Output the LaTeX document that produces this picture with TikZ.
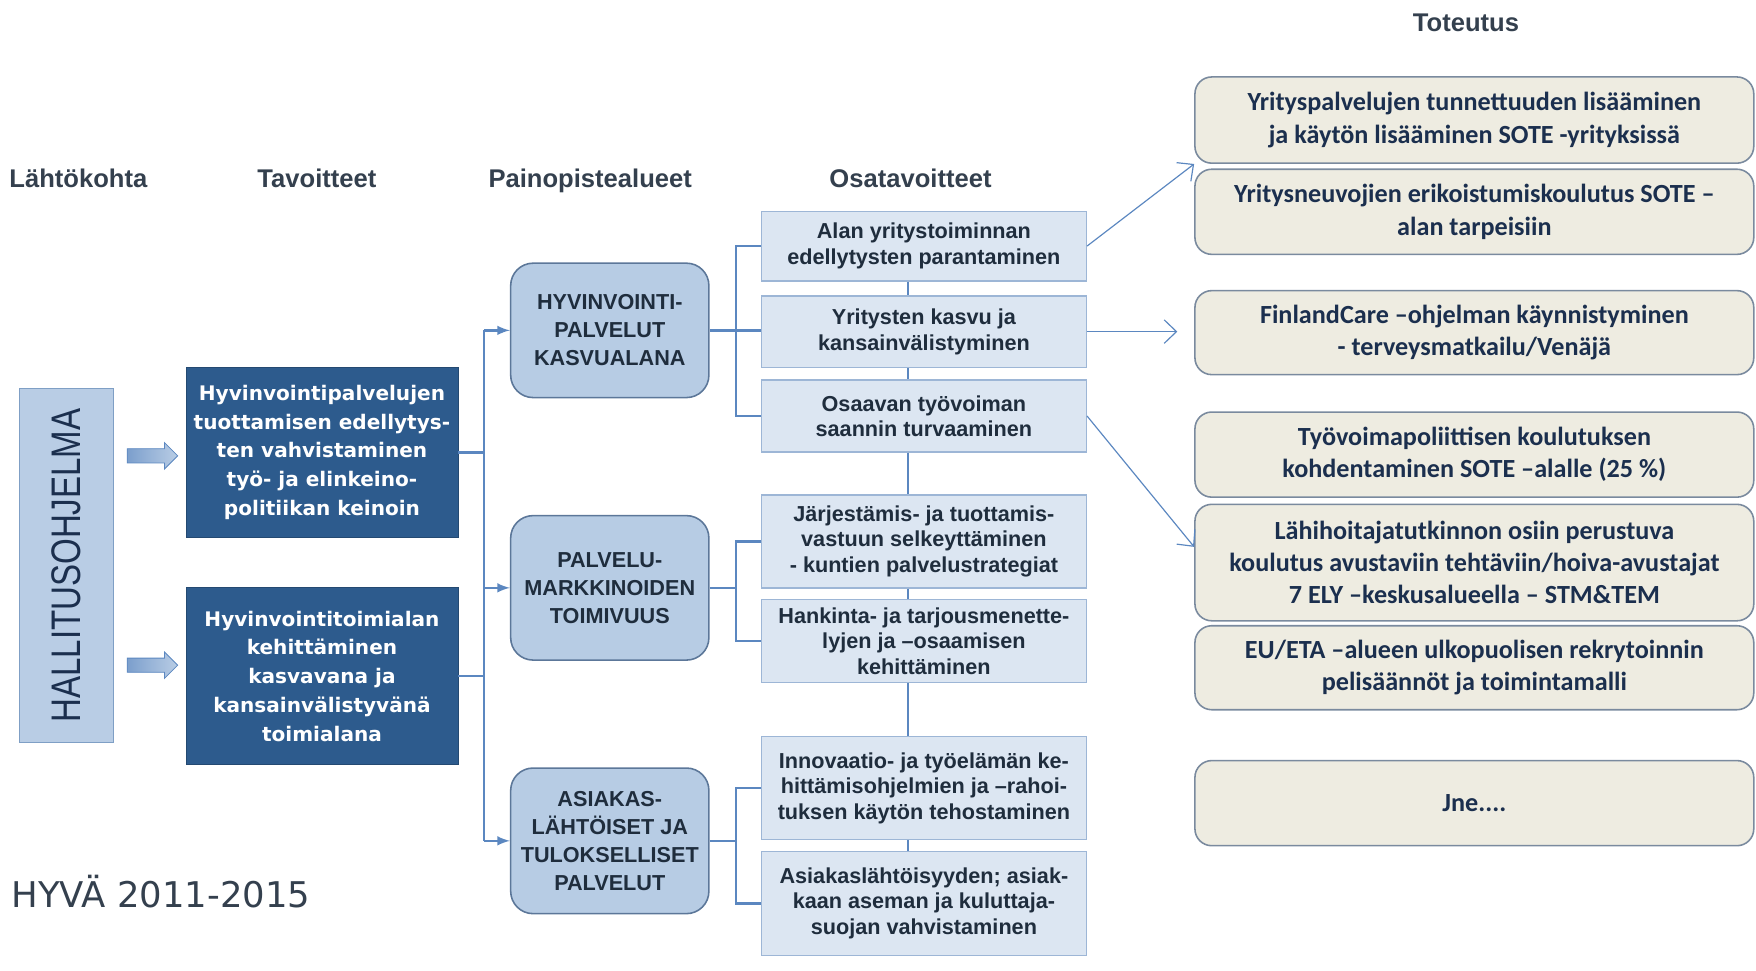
\documentclass[tikz,border=0pt]{standalone}
\usepackage{fontspec}
\setmainfont{Liberation Sans}
\newfontfamily\califont{Carlito}
\newfontfamily\verdfont{DejaVu Sans}
\newfontfamily\narrowfont[FakeStretch=0.8]{Liberation Sans}
\usepackage{tikz}
\usetikzlibrary{positioning, arrows, arrows.meta, shapes.arrows}

\definecolor{headgray}{HTML}{34404E}
\definecolor{inkblue}{HTML}{1F2D3D}
\definecolor{navy}{HTML}{1B2F4E}
\definecolor{goalblue}{HTML}{2D5B8D}
\definecolor{startfill}{HTML}{B9CDE5}
\definecolor{startline}{HTML}{7F9FC5}
\definecolor{focusfill}{HTML}{B7CCE4}
\definecolor{focusline}{HTML}{5C7799}
\definecolor{subfill}{HTML}{DCE6F2}
\definecolor{subline}{HTML}{9DB6D6}
\definecolor{actfill}{HTML}{EEECE1}
\definecolor{actline}{HTML}{7A8A9E}
\definecolor{linkblue}{HTML}{5B87C0}

\tikzset{
	head/.style={anchor=base, font=\bfseries\fontsize{13}{15}\selectfont, text=headgray},
	startbox/.style={rotate=90, fill=startfill, draw=startline, minimum width=6.32cm, minimum height=1.68cm,
		font=\narrowfont\fontsize{21}{24}\selectfont, text=navy},
	blockarrow/.style={single arrow, left color=linkblue!80, right color=startfill, draw=linkblue,
		minimum height=0.9cm, inner sep=0.12cm, single arrow head extend=0.11cm},
	goal/.style={fill=goalblue, draw=goalblue!80!black, text=white, align=center, minimum width=4.86cm,
		minimum height=3.04cm, font=\verdfont\bfseries\fontsize{10.2}{14.6}\selectfont},
	focus/.style={rounded corners=0.4cm, fill=focusfill, draw=focusline, thick, align=center, minimum width=3.54cm,
		minimum height=2.4cm, font=\bfseries\fontsize{11}{14.2}\selectfont, text=inkblue},
	sub/.style={fill=subfill, draw=subline, thick, align=center, minimum width=5.8cm, inner sep=2pt,
		font=\bfseries\fontsize{11}{13}\selectfont, text=inkblue},
	act/.style={rounded corners=0.3cm, fill=actfill, draw=actline, thick, align=center, minimum width=9.98cm,
		font=\califont\bfseries\fontsize{13.3}{16.4}\selectfont, text=navy},
	link/.style={draw=linkblue, line width=1.2pt},
	thinlink/.style={draw=linkblue, line width=0.6pt, -{Straight Barb[length=0.22cm, width=0.42cm]}}
}

\begin{document}
\begin{tikzpicture}[x=0.2mm, y=-0.2mm]
	\useasboundingbox (0,0) rectangle (1568,867);

	\node[head] (h1) at (70,167) {Lähtökohta};
	\node[head] (h2) at (283,167) {Tavoitteet};
	\node[head] (h3) at (527,167) {Painopistealueet};
	\node[head] (h4) at (813,167) {Osatavoitteet};
	\node[head] (h5) at (1309,28) {Toteutus};

	\node[startbox] (start) at (59,505) {HALLITUSOHJELMA};
	\node[blockarrow] (a1) at (133,407) {};
	\node[blockarrow] (a2) at (133,594) {};

	\node[goal] (t1) at (287.5,404) {Hyvinvointipalvelujen\\tuottamisen edellytys-\\ten vahvistaminen\\työ- ja elinkeino-\\politiikan keinoin};
	\node[goal, below=0.88cm of t1, minimum height=3.16cm] (t2) {Hyvinvointitoimialan\\kehittäminen\\kasvavana ja\\kansainvälistyvänä\\toimialana};

	\node[focus] (p1) at (544.5,295) {HYVINVOINTI-\\PALVELUT\\KASVUALANA};
	\node[focus, below=2.08cm of p1, minimum height=2.58cm] (p2) {PALVELU-\\MARKKINOIDEN\\TOIMIVUUS};
	\node[focus, below=1.9cm of p2, minimum height=2.6cm] (p3) {ASIAKAS-\\LÄHTÖISET JA\\TULOKSELLISET\\PALVELUT};

	\node[sub, anchor=north, minimum height=1.24cm] (o1) at (825,188) {Alan yritystoiminnan\\edellytysten parantaminen};
	\node[sub, below=0.24cm of o1, minimum height=1.28cm] (o2) {Yritysten kasvu ja\\kansainvälistyminen};
	\node[sub, below=0.2cm of o2, minimum height=1.28cm] (o3) {Osaavan työvoiman\\saannin turvaaminen};
	\node[sub, below=0.74cm of o3, minimum height=1.66cm] (o4) {Järjestämis- ja tuottamis-\\vastuun selkeyttäminen\\- kuntien palvelustrategiat};
	\node[sub, below=0.18cm of o4, minimum height=1.48cm] (o5) {Hankinta- ja tarjousmenette-\\lyjen ja –osaamisen\\kehittäminen};
	\node[sub, below=0.94cm of o5, minimum height=1.84cm] (o6) {Innovaatio- ja työelämän ke-\\hittämisohjelmien ja –rahoi-\\tuksen käytön tehostaminen};
	\node[sub, below=0.18cm of o6, minimum height=1.86cm] (o7) {Asiakaslähtöisyyden; asiak-\\kaan aseman ja kuluttaja-\\suojan vahvistaminen};

	\node[act, anchor=north, minimum height=1.54cm] (r1) at (1316.5,68) {Yrityspalvelujen tunnettuuden lisääminen\\ja käytön lisääminen SOTE -yrityksissä};
	\node[act, below=0.08cm of r1, minimum height=1.52cm] (r2) {Yritysneuvojien erikoistumiskoulutus SOTE –\\alan tarpeisiin};
	\node[act, below=0.62cm of r2, minimum height=1.5cm] (r3) {FinlandCare –ohjelman käynnistyminen\\- terveysmatkailu/Venäjä};
	\node[act, below=0.64cm of r3, minimum height=1.52cm] (r4) {Työvoimapoliittisen koulutuksen\\kohdentaminen SOTE –alalle (25 \%)};
	\node[act, below=0.1cm of r4, minimum height=2.08cm] (r5) {Lähihoitajatutkinnon osiin perustuva\\koulutus avustaviin tehtäviin/hoiva-avustajat\\7 ELY –keskusalueella – STM\&TEM};
	\node[act, below=0.06cm of r5, minimum height=1.5cm] (r6) {EU/ETA –alueen ulkopuolisen rekrytoinnin\\pelisäännöt ja toimintamalli};
	\node[act, below=0.88cm of r6, minimum height=1.52cm] (r7) {Jne....};

	\node[anchor=west, inner sep=0pt, font=\verdfont\fontsize{18}{20}\selectfont, text=headgray] (title) at (10,796) {HYVÄ 2011-2015};

	\coordinate (bus) at (432,0);
	\coordinate (fork) at (657,0);
	\coordinate (spine) at (811,0);
	\coordinate (r3tip) at ([xshift=-0.3cm]r3.west |- o2.east);

	\draw[link] (t1.east) -- (t1.east -| bus);
	\draw[link] (t2.east) -- (t2.east -| bus);
	\draw[link] (p1.west -| bus) -- (p3.west -| bus);
	\foreach \p in {p1,p2,p3}
		\draw[link, -latex] (\p.west -| bus) -- (\p.west);

	\draw[link] (p1.east) -- (p1.east -| o2.west);
	\draw[link] (o1.west) -- (o1.west -| fork) -- (o3.west -| fork) -- (o3.west);
	\draw[link] (p2.east) -- (p2.east -| fork);
	\draw[link] (o4.west) -- (o4.west -| fork) -- (o5.west -| fork) -- (o5.west);
	\draw[link] (p3.east) -- (p3.east -| fork);
	\draw[link] (o6.west) -- (o6.west -| fork) -- (o7.west -| fork) -- (o7.west);
	\foreach \a/\b in {o1/o2,o2/o3,o3/o4,o4/o5,o5/o6,o6/o7}
		\draw[link] (\a.south -| spine) -- (\b.north -| spine);

	\draw[thinlink] (o1.east) -- (r1.south west);
	\draw[thinlink] (o2.east) -- (r3tip);
	\draw[thinlink] (o3.east) -- ([yshift=0.28cm]r5.west);
\end{tikzpicture}
\end{document}
